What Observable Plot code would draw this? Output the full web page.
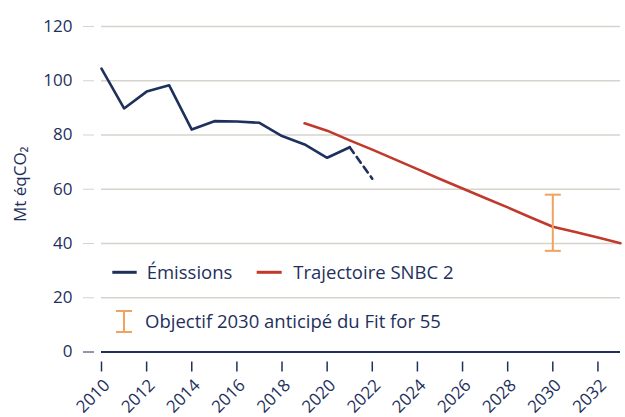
<!DOCTYPE html>
<html>
<head>
<meta charset="utf-8">
<script src="https://cdn.jsdelivr.net/npm/d3@7"></script>
<script src="https://cdn.jsdelivr.net/npm/@observablehq/plot@0.6"></script>
<style>
  html, body { margin: 0; padding: 0; background: #ffffff; }
  #chart { width: 625px; height: 417px; }
</style>
</head>
<body>
<div id="chart"></div>
<script>
// ---- Data ----
const emissionYears = [2010, 2011, 2012, 2013, 2014, 2015, 2016, 2017, 2018, 2019, 2020, 2021];
const emissionValues = [104.5, 89.8, 96.0, 98.3, 82.0, 85.1, 85.0, 84.5, 79.6, 76.5, 71.6, 75.5];
const estimateYears = [2021, 2022];
const estimateValues = [75.5, 63.9];
const snbcYears = [2019, 2020, 2021, 2022, 2023, 2024, 2025, 2026, 2027, 2028, 2029, 2030, 2031, 2032, 2033];
const snbcValues = [84.3, 81.6, 78.0, 74.6, 71.0, 67.4, 63.8, 60.3, 56.8, 53.3, 49.7, 46.2, 44.2, 42.2, 40.1];
const fitYear = 2030;
const fitLow = 37.3;
const fitHigh = 58.0;
const yTicks = [20, 40, 60, 80, 100, 120];
const xTicks = [2010, 2012, 2014, 2016, 2018, 2020, 2022, 2024, 2026, 2028, 2030, 2032];
const yLabel = "Mt éqCO₂";
const legendLabels = ["Émissions", "Trajectoire SNBC 2", "Objectif 2030 anticipé du Fit for 55"];

// ---- Styles ----
const NAVY = "#1E305C";
const RED = "#C0392B";
const ORANGE = "#EFA35E";
const GRID = "#D5D3CB";
const FONT = "'Open Sans', sans-serif";
const TICK_FS = 17;
const LEGEND_FS = 18.5;

const emissions = emissionYears.map((year, i) => ({year, value: emissionValues[i]}));
const estimate = estimateYears.map((year, i) => ({year, value: estimateValues[i]}));
const snbc = snbcYears.map((year, i) => ({year, value: snbcValues[i]}));

const capSymbol = {
  draw(context) {
    context.moveTo(-8, 0);
    context.lineTo(8, 0);
  }
};

const chart = Plot.plot({
  width: 625,
  height: 417,
  marginLeft: 101,
  marginRight: 5,
  marginTop: 26,
  marginBottom: 65.5,
  style: {fontFamily: FONT, fontSize: TICK_FS + "px", color: NAVY, background: "#ffffff"},
  x: {domain: [2010, 2033]},
  y: {domain: [0, 120]},
  marks: [
    Plot.ruleY(yTicks, {stroke: GRID, strokeWidth: 1.3}),
    Plot.axisY(yTicks, {tickSize: 11, dx: -7, tickPadding: 11, stroke: GRID, fill: NAVY, label: null, fontSize: TICK_FS}),
    Plot.axisY([0], {tickSize: 11, dx: -7, tickPadding: 11, stroke: NAVY, fill: NAVY, label: null, fontSize: TICK_FS}),
    Plot.ruleY([0], {stroke: NAVY, strokeWidth: 2}),
    Plot.axisX(xTicks, {tickSize: 10, dy: 10, stroke: NAVY, strokeWidth: 1.5, tickFormat: () => "", label: null}),
    Plot.text(xTicks, {x: d => d, text: d => String(d), frameAnchor: "bottom", dx: 5.5, dy: 30.5,
      rotate: -45, textAnchor: "end", lineAnchor: "middle", fill: NAVY, fontSize: TICK_FS}),
    Plot.text([yLabel], {frameAnchor: "left", dx: -81, dy: -5, rotate: -90, textAnchor: "middle",
      lineAnchor: "middle", fill: NAVY, fontSize: 17}),
    Plot.line(snbc, {x: "year", y: "value", stroke: RED, strokeWidth: 2.6}),
    Plot.line(emissions, {x: "year", y: "value", stroke: NAVY, strokeWidth: 2.6}),
    Plot.line(estimate, {x: "year", y: "value", stroke: NAVY, strokeWidth: 2.6, strokeDasharray: "7,5"}),
    Plot.ruleX([fitYear], {y1: fitLow, y2: fitHigh, stroke: ORANGE, strokeWidth: 2}),
    Plot.dot([fitLow, fitHigh], {x: () => fitYear, y: d => d, symbol: capSymbol, stroke: ORANGE, strokeWidth: 2, r: 4})
  ]
});

document.getElementById("chart").appendChild(chart);

// ---- Legend (inside the plot area) ----
const svg = d3.select(chart);
const lg = svg.append("g")
  .attr("font-family", FONT)
  .attr("font-size", LEGEND_FS)
  .attr("text-anchor", "start")
  .attr("fill", NAVY);
const row1 = 272.3, row2 = 321.7;
lg.append("line").attr("x1", 112.3).attr("x2", 136.7).attr("y1", row1).attr("y2", row1)
  .attr("stroke", NAVY).attr("stroke-width", 3);
lg.append("text").attr("x", 146.7).attr("y", row1).attr("dy", "0.35em").text(legendLabels[0]);
lg.append("line").attr("x1", 256.7).attr("x2", 281.7).attr("y1", row1).attr("y2", row1)
  .attr("stroke", RED).attr("stroke-width", 3);
lg.append("text").attr("x", 293.3).attr("y", row1).attr("dy", "0.35em").text(legendLabels[1]);
const ic = lg.append("g").attr("stroke", ORANGE).attr("stroke-width", 2);
ic.append("line").attr("x1", 124).attr("x2", 124).attr("y1", 311).attr("y2", 332);
ic.append("line").attr("x1", 116).attr("x2", 132).attr("y1", 311).attr("y2", 311);
ic.append("line").attr("x1", 116).attr("x2", 132).attr("y1", 332).attr("y2", 332);
lg.append("text").attr("x", 145).attr("y", row2).attr("dy", "0.35em").text(legendLabels[2]);
</script>
</body>
</html>
